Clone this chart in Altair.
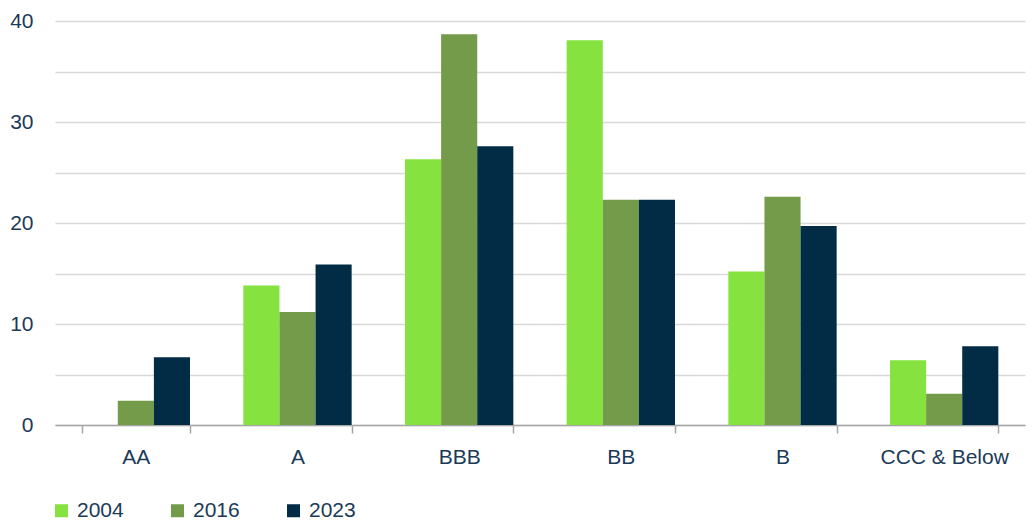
import altair as alt
import pandas as pd

categories = ["AA", "A", "BBB", "BB", "B", "CCC & Below"]
years = ["2004", "2016", "2023"]
v2004 = [0.0, 13.8, 26.3, 38.1, 15.2, 6.4]
v2016 = [2.4, 11.2, 38.7, 22.3, 22.6, 3.1]
v2023 = [6.7, 15.9, 27.6, 22.3, 19.7, 7.8]
colors = ["#86e33f", "#739b4a", "#022b45"]

rows = []
for yr, vals in zip(years, [v2004, v2016, v2023]):
    for c, v in zip(categories, vals):
        rows.append({"cat": c, "year": yr, "value": v})
df = pd.DataFrame(rows)

FONT = "Liberation Sans, Arial, sans-serif"
TXT = "#1b3a57"
FS = 21

chart = alt.Chart(df).mark_bar().encode(
    x=alt.X("cat:N", sort=categories, title=None,
            scale=alt.Scale(paddingInner=0.33, paddingOuter=0.165),
            axis=alt.Axis(labelAngle=0, tickBand="extent", tickSize=8,
                          tickColor="#a6a6a6", tickWidth=1.5,
                          domainColor="#a6a6a6", domainWidth=1.5,
                          labelPadding=13, labelFontSize=FS, labelColor=TXT,
                          labelFont=FONT, grid=False)),
    xOffset=alt.XOffset("year:N", sort=years),
    y=alt.Y("value:Q", title=None,
            scale=alt.Scale(domain=[0, 40], nice=False),
            axis=alt.Axis(values=[0, 5, 10, 15, 20, 25, 30, 35, 40],
                          labelExpr="datum.value % 10 == 0 ? datum.label : ''",
                          ticks=False, domain=False, grid=True,
                          gridColor="#d9d9d9", gridWidth=1.5,
                          labelPadding=22, labelFontSize=FS, labelColor=TXT,
                          labelFont=FONT)),
    color=alt.Color("year:N", sort=years,
                    scale=alt.Scale(domain=years, range=colors),
                    legend=alt.Legend(title=None, orient="none", direction="horizontal",
                                      legendX=-4, legendY=479,
                                      symbolType="square", symbolSize=169,
                                      symbolStrokeWidth=0, symbolOpacity=1,
                                      labelFontSize=FS, labelColor=TXT, labelFont=FONT,
                                      labelOffset=5, columnPadding=43)),
).properties(
    width=970, height=404,
    autosize=alt.AutoSizeParams(type="none"),
    padding={"left": 55, "top": 21, "right": 8, "bottom": 97},
).configure(background="white").configure_view(stroke="transparent", strokeWidth=0, strokeOpacity=0)

chart.save("out.html", embed_options={"renderer": "svg", "actions": False})
